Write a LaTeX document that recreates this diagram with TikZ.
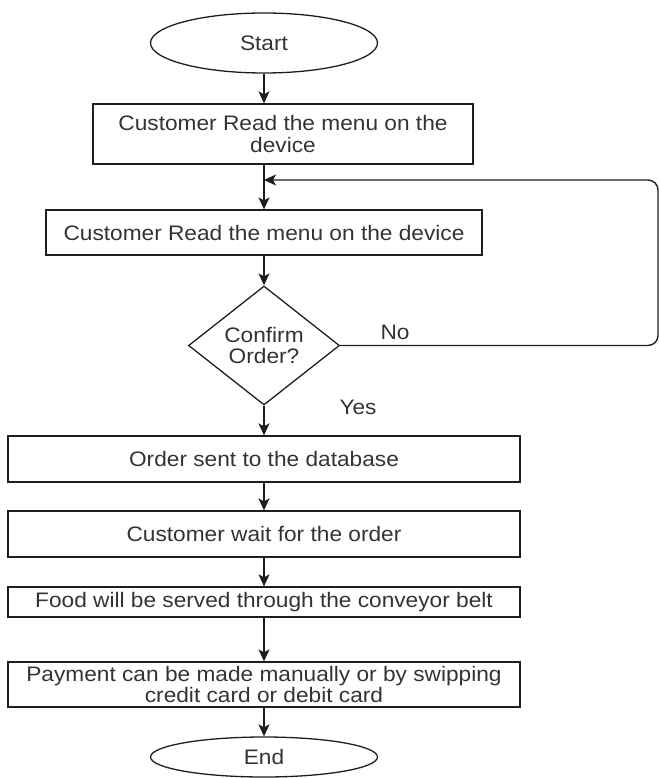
\documentclass[tikz,border=0pt]{standalone}
\usepackage{fontspec}
\setmainfont{Liberation Sans}[FakeStretch=1.08]
\usetikzlibrary{shapes.geometric,arrows.meta}
\definecolor{ink}{HTML}{1E1E1E}
\definecolor{txt}{HTML}{333333}
\tikzset{
  base/.style={draw=ink, line width=1.3pt, text=txt, inner sep=0pt,
    font=\fontsize{21}{21.5}\selectfont, align=center},
  terminal/.style={base, ellipse, minimum width=227pt, minimum height=#1},
  stepbox/.style={base, rectangle, minimum width=#1},
  decision/.style={base, diamond, aspect=1.27, minimum width=151pt, minimum height=119pt},
  flow/.style={draw=ink, line width=1.4pt, -{Stealth[length=12pt,width=11pt,inset=3pt]}},
  lbl/.style={text=txt, font=\fontsize{21}{21}\selectfont, inner sep=0pt}
}
\begin{document}
\begin{tikzpicture}[x=1pt,y=-1pt]
\useasboundingbox (0,0) rectangle (659,778);

\node[terminal=60pt] (start) at (264,43) {Start};
\node[stepbox=380pt, minimum height=60pt] (read1) at (283,134)
  {Customer Read the menu on the\\device};
\node[stepbox=436pt, minimum height=45pt] (read2) at (264,232.5)
  {Customer Read the menu on the device};
\node[decision] (confirm) at (264,345.5) {Confirm\\Order?};
\node[stepbox=512pt, minimum height=46pt] (sent) at (264,459)
  {Order sent to the database};
\node[stepbox=512pt, minimum height=46pt] (wait) at (264,534)
  {Customer wait for the order};
\node[stepbox=512pt, minimum height=30pt] (serve) at (264,602)
  {Food will be served through the conveyor belt};
\node[stepbox=512pt, minimum height=45pt] (pay) at (264,684.5)
  {Payment can be made manually or by swipping\\credit card or debit card};
\node[terminal=40pt] (end) at (264,757) {End};

% where the "No" branch rejoins the main line
\coordinate (join) at (264,180);
\coordinate (loopr) at (658,345.5);

\draw[flow] (start.south) -- (start.south |- read1.north);
\draw[flow] (read1.south -| join) -- (read2.north);
\draw[flow] (read2.south) -- (confirm.north);
\draw[flow] (confirm.south) -- (sent.north);
\draw[flow] (sent.south) -- (wait.north);
\draw[flow] (wait.south) -- (serve.north);
\draw[flow] (serve.south) -- (pay.north);
\draw[flow] (pay.south) -- (end.north);

% "No" branch loops back above the second reading step
\draw[flow, rounded corners=10pt] (confirm.east) -- (loopr) -- (loopr |- join) -- (join);

\node[lbl] (no) at (395,332) {No};
\node[lbl] (yes) at (358,407) {Yes};
\end{tikzpicture}
\end{document}
